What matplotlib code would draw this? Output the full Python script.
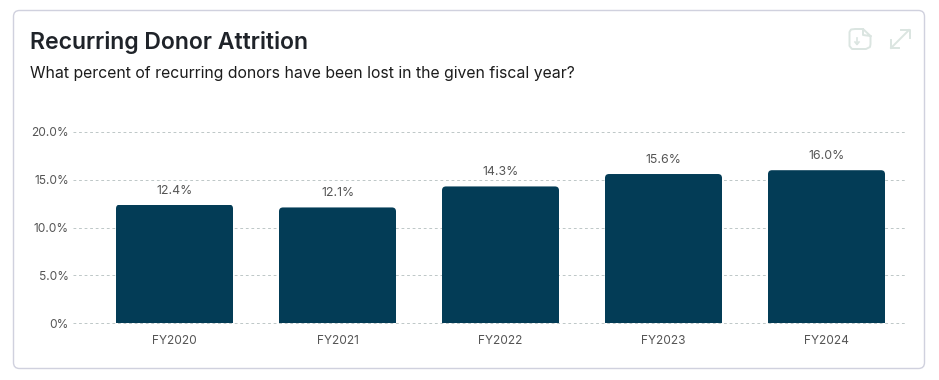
import matplotlib
matplotlib.use("Agg")
import matplotlib.pyplot as plt
from matplotlib.patches import FancyBboxPatch
from matplotlib.transforms import IdentityTransform

plt.rcParams['font.family'] = ['Inter', 'DejaVu Sans']

years = ["FY2020", "FY2021", "FY2022", "FY2023", "FY2024"]
attrition = [12.4, 12.1, 14.3, 15.6, 16.0]
value_labels = ["12.4%", "12.1%", "14.3%", "15.6%", "16.0%"]
y_ticks = [0, 5, 10, 15, 20]
y_tick_labels = ["0%", "5.0%", "10.0%", "15.0%", "20.0%"]

W, H = 939, 380
BAR_COLOR = "#033c56"
TEXT_GRAY = "#555555"
ICON_COLOR = "#dbe5e1"

fig = plt.figure(figsize=(W / 100, H / 100), dpi=100, facecolor="white")

# pixel overlay for the card and the two toolbar icons
bg = fig.add_axes([0, 0, 1, 1], zorder=0)
bg.set_xlim(0, W)
bg.set_ylim(H, 0)
bg.axis("off")
bg.add_patch(FancyBboxPatch((13.5, 10.5), 911, 358, boxstyle="round,pad=0,rounding_size=6",
                            fc="white", ec="#d0d1de", lw=1.0))

# download icon
bg.plot([863, 855, 851, 849.5, 849.5, 852, 866, 870, 870.5, 870.5, 863, 863, 870.5],
        [29, 29, 29.5, 32, 46, 49, 49, 47, 44, 36, 29, 35, 36],
        color=ICON_COLOR, lw=1.4, solid_joinstyle="round")
bg.plot([857, 857], [38, 44], color=ICON_COLOR, lw=1.2)
bg.plot([855, 857, 859], [42, 44.5, 42], color=ICON_COLOR, lw=1.2)
# expand icon
bg.plot([891, 909], [48, 30], color=ICON_COLOR, lw=1.4)
bg.plot([901, 909.5, 909.5], [30, 30, 38], color=ICON_COLOR, lw=1.4)
bg.plot([891, 891, 899], [40, 48, 48], color=ICON_COLOR, lw=1.4)

ax = fig.add_axes([73 / W, 1 - 323 / H, (907 - 73) / W, (323 - 132) / H], zorder=1)
ax.patch.set_alpha(0)
x = list(range(len(years)))
bars = ax.bar(x, attrition, width=117 / 163, color=BAR_COLOR, zorder=3)
ax.set_xlim((73 - 174.5) / 163, (907 - 174.5) / 163)
ax.set_ylim(0, 20)

# round the top corners of each bar
for b in bars:
    x0, y0 = ax.transData.transform((b.get_x(), b.get_y()))
    x1, y1 = ax.transData.transform((b.get_x() + b.get_width(), b.get_height()))
    clip = FancyBboxPatch((x0, y0 - 20), x1 - x0, y1 - y0 + 20,
                          boxstyle="round,pad=0,rounding_size=4", transform=IdentityTransform())
    b.set_clip_path(clip)

for i, v in enumerate(attrition):
    ax.annotate(value_labels[i], (i, v), xytext=(0, 8), textcoords="offset pixels",
                ha="center", va="bottom", fontsize=8.9, color=TEXT_GRAY)

ax.set_yticks(y_ticks)
ax.set_yticklabels(y_tick_labels)
ax.set_xticks(x)
ax.set_xticklabels(years)
ax.tick_params(axis="both", length=0, labelsize=8.6, labelcolor=TEXT_GRAY)
ax.tick_params(axis="y", pad=3)
ax.tick_params(axis="x", pad=9)
ax.grid(axis="y", color="#bfc8c8", lw=0.72, linestyle=(0, (2.78, 2.78)), zorder=0)
ax.set_axisbelow(True)
for s in ax.spines.values():
    s.set_visible(False)
for line in ax.get_ygridlines():
    line.set_clip_on(False)

fig.text(30 / W, 1 - 42 / H, "Recurring Donor Attrition", fontsize=16.6, fontweight="semibold",
         color="#1f2329", va="center", ha="left")
fig.text(30 / W, 1 - 73.5 / H, "What percent of recurring donors have been lost in the given fiscal year?",
         fontsize=11.37, color="#1c1c1c", va="center", ha="left")

plt.savefig("out.png", dpi=100)
plt.close()
